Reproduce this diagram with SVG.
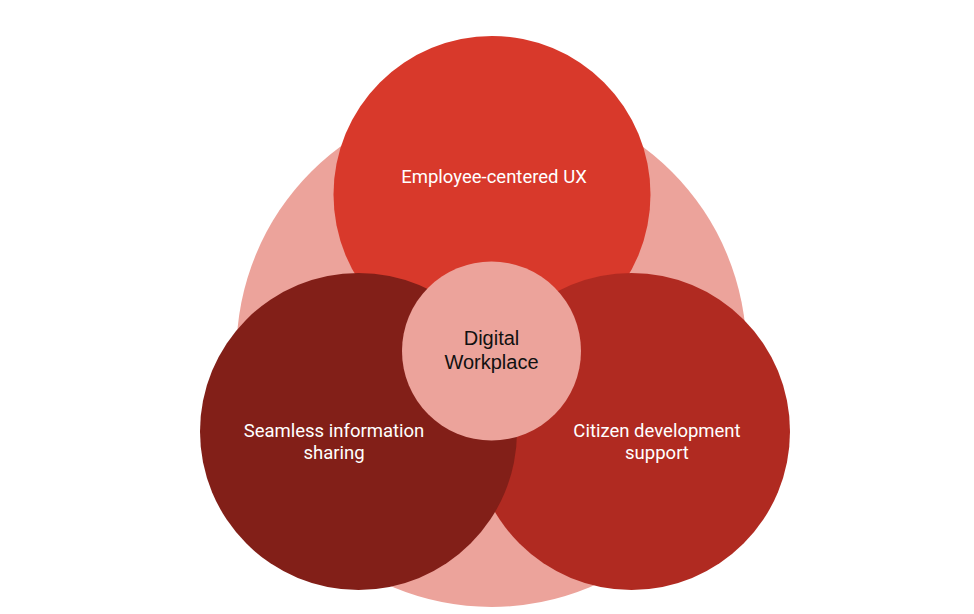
<svg xmlns="http://www.w3.org/2000/svg" width="974" height="614" viewBox="0 0 974 614">
<style>
.lbl{font-family:Roboto,"Liberation Sans",sans-serif;font-size:18.5px;fill:#FFFFFF;text-anchor:middle}
.ctr{font-family:"Liberation Sans",Arial,sans-serif;font-size:20px;fill:#111111;text-anchor:middle}
</style>
<rect width="974" height="614" fill="#FFFFFF"/>
<g id="background">
<circle cx="491.5" cy="352" r="255" fill="#ECA39B"/>
</g>
<g id="employee-ux">
<circle cx="492" cy="194.5" r="158.5" fill="#D8392B"/>
<text class="lbl" x="494" y="183">Employee-centered UX</text>
</g>
<g id="citizen-dev">
<circle cx="631.5" cy="431.5" r="158.5" fill="#B02A21"/>
<text class="lbl" x="657" y="437">Citizen development</text>
<text class="lbl" x="657" y="459">support</text>
</g>
<g id="info-sharing">
<circle cx="358.5" cy="431.5" r="158.5" fill="#821F18"/>
<text class="lbl" x="334" y="437">Seamless information</text>
<text class="lbl" x="334" y="459">sharing</text>
</g>
<g id="digital-workplace">
<circle cx="491.5" cy="351" r="89.5" fill="#ECA39B"/>
<text class="ctr" x="491.5" y="345">Digital</text>
<text class="ctr" x="491.5" y="369">Workplace</text>
</g>
<g id="connectors"></g>
</svg>
